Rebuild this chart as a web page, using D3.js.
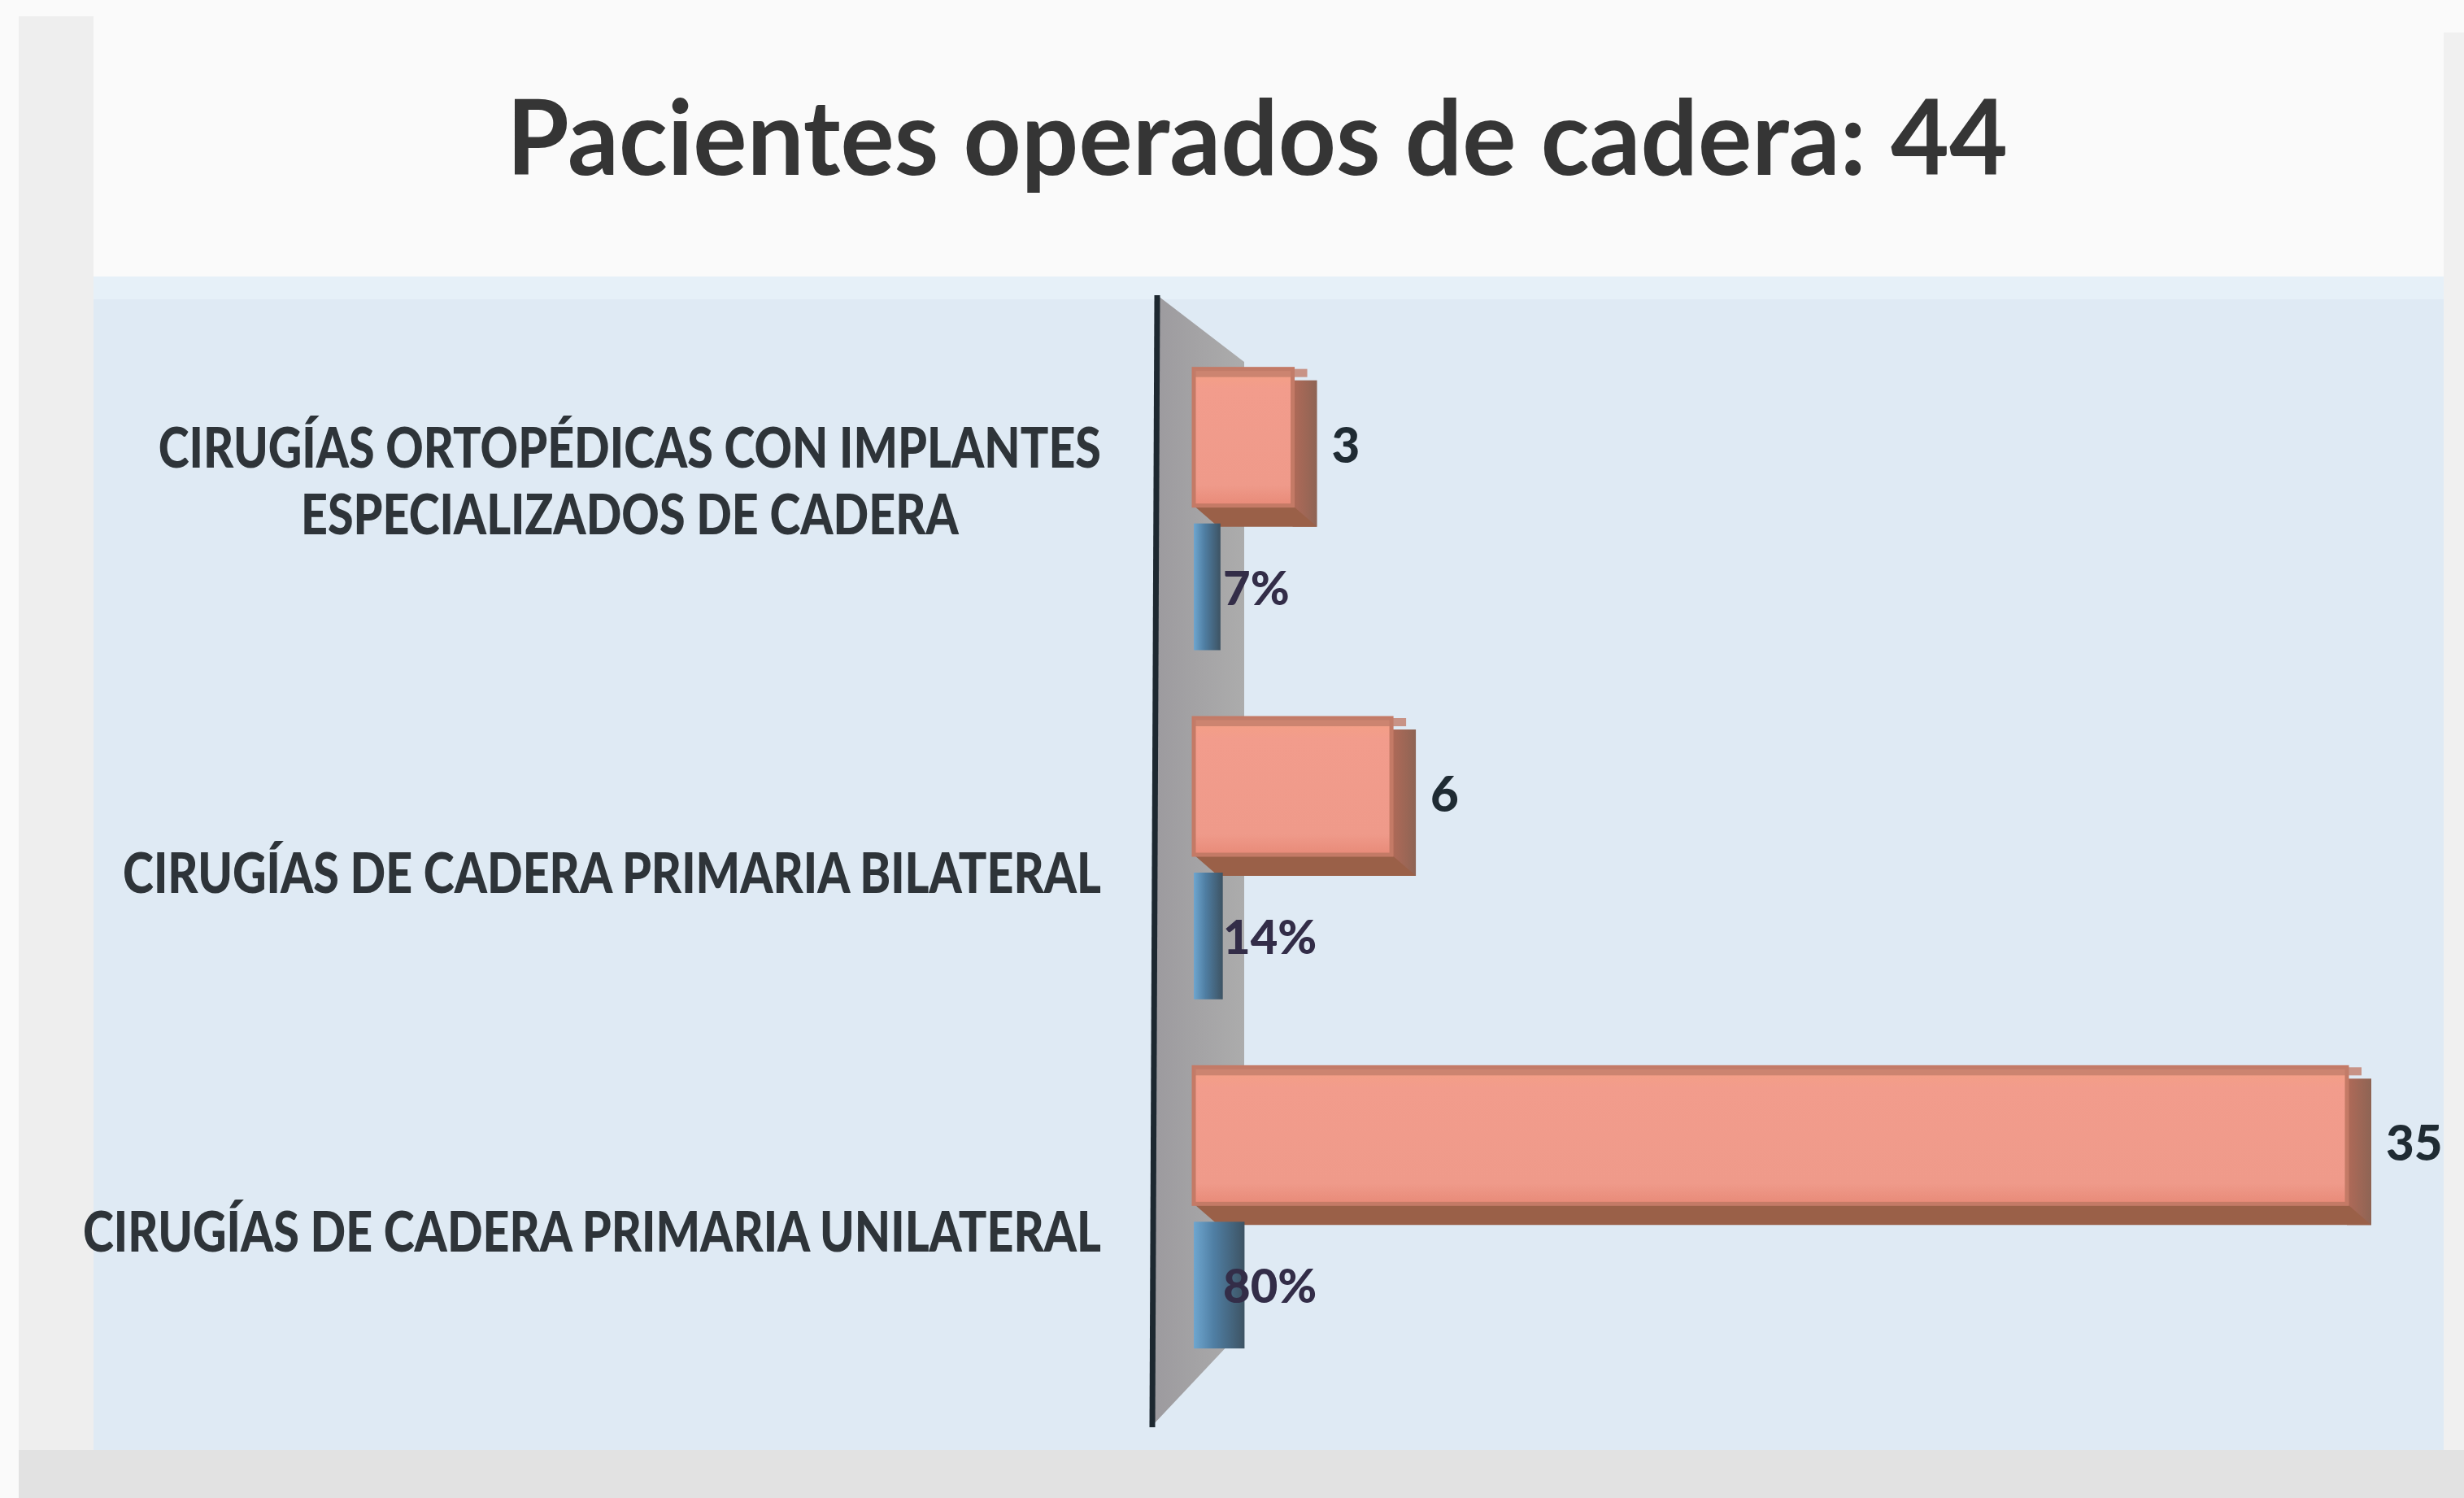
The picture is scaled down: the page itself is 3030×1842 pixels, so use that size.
<!DOCTYPE html>
<html>
<head>
<meta charset="utf-8">
<script src="https://cdn.jsdelivr.net/npm/d3@7"></script>
<style>
  html, body { margin: 0; padding: 0; background: #f6f6f6; }
  svg { display: block; }
</style>
</head>
<body>
<svg id="chart" width="3030" height="1842"></svg>
<script>
// ---- data ----
const title = "Pacientes operados de cadera: 44";
const categories = [
  "CIRUGÍAS ORTOPÉDICAS CON IMPLANTES ESPECIALIZADOS DE CADERA",
  "CIRUGÍAS DE CADERA PRIMARIA BILATERAL",
  "CIRUGÍAS DE CADERA PRIMARIA UNILATERAL"
];
const categoryLines = [
  ["CIRUGÍAS ORTOPÉDICAS CON IMPLANTES", "ESPECIALIZADOS DE CADERA"],
  ["CIRUGÍAS DE CADERA PRIMARIA BILATERAL"],
  ["CIRUGÍAS DE CADERA PRIMARIA UNILATERAL"]
];
const counts = [3, 6, 35];
const shares = [0.07, 0.14, 0.80];
const seriesNames = ["count", "share"];

// ---- layout ----
const W = 3030, H = 1842;
const svg = d3.select("#chart");
const defs = svg.append("defs");
const FONT = "Lato, 'Open Sans', sans-serif";
const depth = 30;

// backgrounds (photographed slide)
svg.append("rect").attr("x", 0).attr("y", 0).attr("width", W).attr("height", H).attr("fill", "#fafafa");
svg.append("rect").attr("x", 23).attr("y", 20).attr("width", 92).attr("height", H - 20).attr("fill", "#eeeeee");
svg.append("rect").attr("x", 3005).attr("y", 40).attr("width", 25).attr("height", H - 40).attr("fill", "#f0f0f0");
svg.append("rect").attr("x", 23).attr("y", 1783).attr("width", W - 23).attr("height", H - 1783).attr("fill", "#e2e2e2");
svg.append("rect").attr("x", 115).attr("y", 340).attr("width", 2890).attr("height", 1443).attr("fill", "#dfeaf4");
svg.append("rect").attr("x", 115).attr("y", 340).attr("width", 2890).attr("height", 28).attr("fill", "#e6f0f8");

// scales
const x = d3.scaleLinear().domain([0, 35]).range([1468, 2886]);
const y = d3.scaleBand().domain(categories).range([434, 1722]).padding(0);
const s = d3.scaleBand().domain(seriesNames).range([-195, 185]).padding(0);

// gradients
const gWall = defs.append("linearGradient").attr("id", "wall").attr("x1", 0).attr("x2", 1).attr("y1", 0).attr("y2", 0);
gWall.append("stop").attr("offset", 0).attr("stop-color", "#9c9a9e");
gWall.append("stop").attr("offset", 1).attr("stop-color", "#acacac");

const gBlue = defs.append("linearGradient").attr("id", "blue").attr("x1", 0).attr("x2", 1).attr("y1", 0).attr("y2", 0);
gBlue.append("stop").attr("offset", 0).attr("stop-color", "#6ea6cf");
gBlue.append("stop").attr("offset", 0.4).attr("stop-color", "#4f7ea3");
gBlue.append("stop").attr("offset", 1).attr("stop-color", "#3d5363");

const gOr = defs.append("linearGradient").attr("id", "orange").attr("x1", 0).attr("x2", 0).attr("y1", 0).attr("y2", 1);
gOr.append("stop").attr("offset", 0).attr("stop-color", "#f4a084");
gOr.append("stop").attr("offset", 0.15).attr("stop-color", "#f29c8c");
gOr.append("stop").attr("offset", 0.85).attr("stop-color", "#ef9a8a");
gOr.append("stop").attr("offset", 1).attr("stop-color", "#e88a78");

const gSide = defs.append("linearGradient").attr("id", "side").attr("x1", 0).attr("x2", 1).attr("y1", 0).attr("y2", 0);
gSide.append("stop").attr("offset", 0).attr("stop-color", "#b06a58");
gSide.append("stop").attr("offset", 1).attr("stop-color", "#8e6454");

// 3D side wall
svg.append("polygon")
  .attr("points", [[1423, 363], [1530, 445], [1530, 1633], [1417, 1753]].map(p => p.join(",")).join(" "))
  .attr("fill", "url(#wall)");

// bars
const data = categories.map((c, i) => ({ cat: c, count: counts[i], share: shares[i], lines: categoryLines[i] }));
const groups = svg.append("g").selectAll("g").data(data).join("g")
  .attr("transform", d => `translate(0,${y(d.cat) + y.bandwidth() / 2})`);

// orange (count) bars
groups.each(function (d) {
  const g = d3.select(this);
  const y0 = s("count"), h = s.bandwidth();
  const x0 = x(0), x1 = x(d.count);
  g.append("rect").attr("x", x1).attr("y", y0 + 14).attr("width", depth).attr("height", h - 10)
    .attr("fill", "url(#side)");
  g.append("polygon")
    .attr("points", [[x0, y0 + h - 22], [x1, y0 + h - 22], [x1 + depth, y0 + h + 4], [x0 + depth, y0 + h + 4]].map(p => p.join(",")).join(" "))
    .attr("fill", "#9a6048");
  g.append("rect").attr("x", x0).attr("y", y0).attr("width", x1 - x0).attr("height", h - 22)
    .attr("fill", "url(#orange)").attr("stroke", "#c47a66").attr("stroke-width", 5);
  g.append("rect").attr("x", x0).attr("y", y0).attr("width", x1 - x0 + depth * 0.6).attr("height", 10)
    .attr("fill", "#c27d6a").attr("opacity", 0.8);
});

// blue (share) bars
groups.append("rect")
  .attr("x", x(0))
  .attr("y", s("share"))
  .attr("width", d => x(d.share) - x(0) + depth)
  .attr("height", s.bandwidth() * 0.82)
  .attr("fill", "url(#blue)");

// axis line
svg.append("line").attr("x1", 1423).attr("y1", 363).attr("x2", 1417).attr("y2", 1755)
  .attr("stroke", "#1d2830").attr("stroke-width", 7);

// value labels
groups.append("text")
  .attr("x", d => x(d.count) + depth + 18)
  .attr("y", s("count") + s.bandwidth() / 2 + 20)
  .attr("font-family", FONT).attr("font-weight", 900).attr("font-size", 60)
  .attr("fill", "#1f2b33")
  .text(d => d.count);

groups.append("text")
  .attr("x", x(0) + 36)
  .attr("y", s("share") + s.bandwidth() * 0.41 + 22)
  .attr("font-family", FONT).attr("font-weight", 900).attr("font-size", 58)
  .attr("fill", "#332d48")
  .text(d => d3.format(".0%")(d.share));

// category labels
const labelRight = 1354, lineGap = 82;
const labelGroups = svg.append("g").selectAll("g").data(data).join("g")
  .attr("transform", (d, i) => `translate(0,${y(d.cat) + y.bandwidth() / 2 + 20 + (i - 1) * 12})`);
const labelTexts = labelGroups.selectAll("text").data(d => d.lines.map((t, i) => ({ t, i, n: d.lines.length }))).join("text")
  .attr("y", d => (d.i - (d.n - 1)) * lineGap)
  .attr("font-family", FONT).attr("font-weight", 900).attr("font-size", 68)
  .attr("fill", "#2e3439")
  .attr("text-anchor", "middle")
  .text(d => d.t);

// condense to mimic the narrow original face: widest single line spans 1252px
let widest = 0;
labelTexts.each(function () { widest = Math.max(widest, this.getComputedTextLength()); });
const squeeze = 1252 / widest;
labelGroups.each(function () {
  const texts = d3.select(this).selectAll("text");
  let blockW = 0;
  texts.each(function () { blockW = Math.max(blockW, this.getComputedTextLength() * squeeze); });
  texts.each(function () {
    const w = this.getComputedTextLength() * squeeze;
    d3.select(this).attr("x", labelRight - blockW / 2)
      .attr("textLength", w).attr("lengthAdjust", "spacingAndGlyphs");
  });
});

// title
const tt = svg.append("text")
  .attr("x", 1546).attr("y", 215)
  .attr("text-anchor", "middle")
  .attr("font-family", FONT).attr("font-weight", 700).attr("font-size", 128)
  .attr("fill", "#353535")
  .text(title);
const tw = tt.node().getComputedTextLength();
if (tw > 1846) tt.attr("textLength", 1846).attr("lengthAdjust", "spacingAndGlyphs");
</script>
</body>
</html>
